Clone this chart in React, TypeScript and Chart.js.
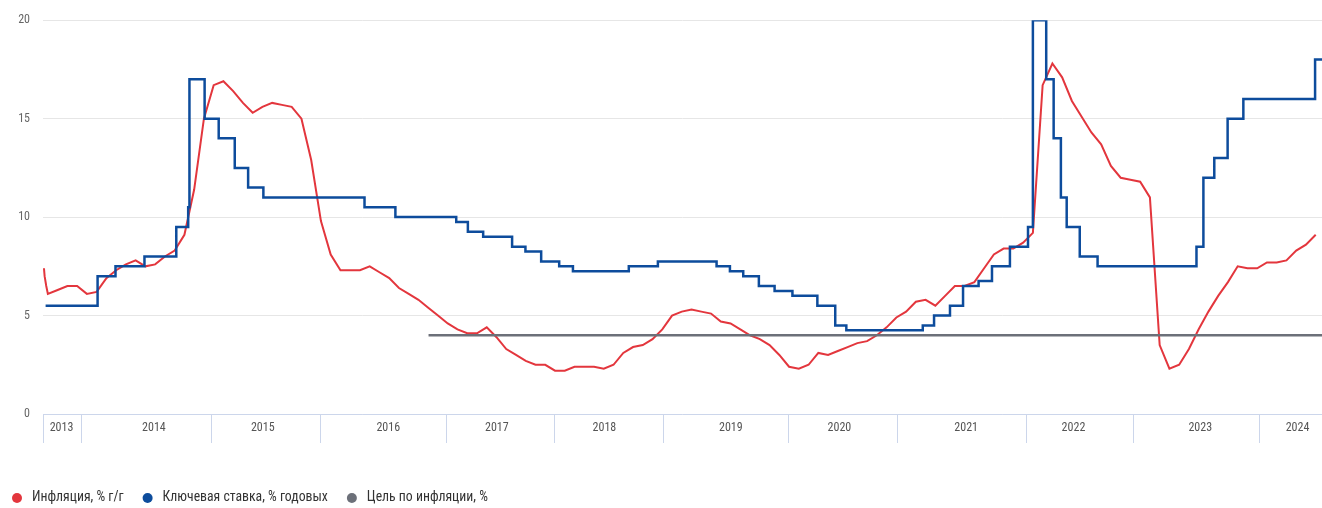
import React, { useEffect, useRef } from "react";
import { Chart, registerables } from "chart.js";

Chart.register(...registerables);

// ---------- DATA ----------
// Inflation, % y/y, monthly, first value = Sep 2013 (plotted at month end)
const inflationStart = "2013-09";
const inflationValues: number[] = [
  6.1, 6.3, 6.5, 6.5,
  6.1, 6.2, 6.9, 7.3, 7.6, 7.8, 7.5, 7.6, 8.0, 8.3, 9.1, 11.4,
  15.0, 16.7, 16.9, 16.4, 15.8, 15.3, 15.6, 15.8, 15.7, 15.6, 15.0, 12.9,
  9.8, 8.1, 7.3, 7.3, 7.3, 7.5, 7.2, 6.9, 6.4, 6.1, 5.8, 5.4,
  5.0, 4.6, 4.3, 4.1, 4.1, 4.4, 3.9, 3.3, 3.0, 2.7, 2.5, 2.5,
  2.2, 2.2, 2.4, 2.4, 2.4, 2.3, 2.5, 3.1, 3.4, 3.5, 3.8, 4.3,
  5.0, 5.2, 5.3, 5.2, 5.1, 4.7, 4.6, 4.3, 4.0, 3.8, 3.5, 3.0,
  2.4, 2.3, 2.5, 3.1, 3.0, 3.2, 3.4, 3.6, 3.7, 4.0, 4.4, 4.9,
  5.2, 5.7, 5.8, 5.5, 6.0, 6.5, 6.5, 6.7, 7.4, 8.1, 8.4, 8.4,
  8.7, 9.2, 16.7, 17.8, 17.1, 15.9, 15.1, 14.3, 13.7, 12.6, 12.0, 11.9,
  11.8, 11.0, 3.5, 2.3, 2.5, 3.3, 4.3, 5.2, 6.0, 6.7, 7.5, 7.4,
  7.4, 7.7, 7.7, 7.8, 8.3, 8.6, 9.1,
];
// small lead-in visible at the left edge of the plot
const inflationLeadDates = ["2013-09-18", "2013-09-20", "2013-09-25"];
const inflationLeadValues = [7.4, 7.0, 6.5];

// Key rate, % per annum: date of change and new level
const keyRateDates = [
  "2013-09-23", "2014-03-03", "2014-04-28", "2014-07-28", "2014-11-05", "2014-12-12", "2014-12-16",
  "2015-02-02", "2015-03-16", "2015-05-05", "2015-06-16", "2015-08-03",
  "2016-06-14", "2016-09-19",
  "2017-03-27", "2017-05-02", "2017-06-19", "2017-09-18", "2017-10-30", "2017-12-18",
  "2018-02-12", "2018-03-26", "2018-09-17", "2018-12-17",
  "2019-06-17", "2019-07-29", "2019-09-09", "2019-10-28", "2019-12-16",
  "2020-02-10", "2020-04-27", "2020-06-22", "2020-07-27",
  "2021-03-22", "2021-04-26", "2021-06-15", "2021-07-26", "2021-09-13", "2021-10-25", "2021-12-20",
  "2022-02-14", "2022-02-28", "2022-04-11", "2022-05-04", "2022-05-27", "2022-06-14", "2022-07-25", "2022-09-19",
  "2023-07-24", "2023-08-15", "2023-09-18", "2023-10-30", "2023-12-18",
  "2024-07-29", "2024-09-30",
];
const keyRateValues = [
  5.5, 7.0, 7.5, 8.0, 9.5, 10.5, 17.0,
  15.0, 14.0, 12.5, 11.5, 11.0,
  10.5, 10.0,
  9.75, 9.25, 9.0, 8.5, 8.25, 7.75,
  7.5, 7.25, 7.5, 7.75,
  7.5, 7.25, 7.0, 6.5, 6.25,
  6.0, 5.5, 4.5, 4.25,
  4.5, 5.0, 5.5, 6.5, 6.75, 7.5, 8.5,
  9.5, 20.0, 17.0, 14.0, 11.0, 9.5, 8.0, 7.5,
  8.5, 12.0, 13.0, 15.0, 16.0,
  18.0, 18.0,
];

// Inflation target
const targetDates = ["2017-01-01", "2024-09-30"];
const targetValues = [4, 4];

// Axis: range, band dividers and year labels
const axisStart = "2013-09-15";
const axisEnd = "2024-08-20";
const bandDividers = [
  "2013-09-15", "2014-01-13", "2015-02-21", "2016-01-29", "2017-02-24", "2018-01-27",
  "2019-01-01", "2020-01-29", "2021-01-03", "2022-02-08", "2023-01-07", "2024-02-04",
];
const yearLabels = ["2013", "2014", "2015", "2016", "2017", "2018", "2019", "2020", "2021", "2022", "2023", "2024"];
const yearLabelDates = [
  "2013-11-12", "2014-08-27", "2015-08-01", "2016-08-28", "2017-08-01", "2018-07-02",
  "2019-08-01", "2020-07-05", "2021-08-05", "2022-07-05", "2023-08-05", "2024-06-04",
];
const yTicks = { min: 0, max: 20, step: 5 };

const seriesNames = ["Инфляция, % г/г", "Ключевая ставка, % годовых", "Цель по инфляции, %"];
const seriesColors = ["#e3363d", "#0d4c9c", "#6c7079"];

// ---------- helpers ----------
const daysIn = (y: number, m: number) => new Date(y, m, 0).getDate();
// months elapsed since 1 Jan 2013 (fractional)
function pos(date: string): number {
  const [y, m, d] = date.split("-").map(Number);
  return (y - 2013) * 12 + (m - 1) + (d ?? daysIn(y, m)) / daysIn(y, m);
}
function inflationPoints() {
  const [sy, sm] = inflationStart.split("-").map(Number);
  const pts = inflationLeadDates.map((d, i) => ({ x: pos(d), y: inflationLeadValues[i] }));
  inflationValues.forEach((v, i) => {
    const mm = sm - 1 + i;
    const y = sy + Math.floor(mm / 12);
    const m = (mm % 12) + 1;
    pts.push({ x: pos(`${y}-${String(m).padStart(2, "0")}-${daysIn(y, m)}`), y: v });
  });
  return pts;
}

const FONT = "'Liberation Sans Narrow', 'Arial Narrow', 'Roboto Condensed', sans-serif";

const bandAxisPlugin = {
  id: "bandAxis",
  afterDraw(chart: any) {
    const { ctx, chartArea } = chart;
    const x = chart.scales.x;
    const base = Math.round(chartArea.bottom);
    ctx.save();
    ctx.strokeStyle = "#ccd6eb";
    ctx.lineWidth = 1;
    ctx.beginPath();
    ctx.moveTo(chartArea.left, base + 0.5);
    ctx.lineTo(chartArea.right, base + 0.5);
    ctx.stroke();
    bandDividers.forEach((d) => {
      const px = Math.round(x.getPixelForValue(pos(d))) + 0.5;
      ctx.beginPath();
      ctx.moveTo(px, base);
      ctx.lineTo(px, base + 29);
      ctx.stroke();
    });
    ctx.fillStyle = "#555555";
    ctx.font = `12px ${FONT}`;
    ctx.textAlign = "center";
    ctx.textBaseline = "middle";
    yearLabels.forEach((lab, i) => {
      ctx.fillText(lab, x.getPixelForValue(pos(yearLabelDates[i])), base + 14);
    });
    ctx.restore();
  },
};

const legendPlugin = {
  id: "customLegend",
  afterDraw(chart: any) {
    const { ctx } = chart;
    ctx.save();
    ctx.font = `13.75px ${FONT}`;
    ctx.textBaseline = "middle";
    ctx.textAlign = "left";
    let cx = 17;
    const cy = 498;
    seriesNames.forEach((name, i) => {
      ctx.fillStyle = seriesColors[i];
      ctx.beginPath();
      ctx.arc(cx, cy, 5, 0, Math.PI * 2);
      ctx.fill();
      ctx.fillStyle = "#333333";
      const tx = cx + 15;
      ctx.fillText(name, tx, cy);
      const w = ctx.measureText(name).width;
      cx = tx + w + 24;
    });
    ctx.restore();
  },
};

export default function App() {
  const ref = useRef<HTMLCanvasElement | null>(null);
  useEffect(() => {
    if (!ref.current) return;
    const chart = new Chart(ref.current, {
      type: "line",
      data: {
        datasets: [
          {
            label: seriesNames[0],
            data: inflationPoints(),
            borderColor: seriesColors[0],
            backgroundColor: seriesColors[0],
            borderWidth: 2,
            pointRadius: 0,
            tension: 0,
            order: 3,
          },
          {
            label: seriesNames[1],
            data: keyRateDates.map((d, i) => ({ x: pos(d), y: keyRateValues[i] })),
            borderColor: seriesColors[1],
            backgroundColor: seriesColors[1],
            borderWidth: 2.5,
            pointRadius: 0,
            stepped: "before",
            order: 2,
          },
          {
            label: seriesNames[2],
            data: targetDates.map((d, i) => ({ x: pos(d), y: targetValues[i] })),
            borderColor: seriesColors[2],
            backgroundColor: seriesColors[2],
            borderWidth: 2.5,
            pointRadius: 0,
            order: 1,
          },
        ],
      },
      options: {
        responsive: false,
        animation: false,
        parsing: false,
        normalized: true,
        layout: { padding: { top: 18, bottom: 94, left: 0, right: 0 } },
        plugins: { legend: { display: false }, tooltip: { enabled: false } },
        scales: {
          x: {
            type: "linear",
            display: false,
            min: pos(axisStart),
            max: pos(axisEnd),
          },
          y: {
            min: yTicks.min,
            max: yTicks.max,
            border: { display: false },
            grid: { color: "#e6e6e6", lineWidth: 1, drawTicks: false },
            ticks: {
              stepSize: yTicks.step,
              padding: 13,
              color: "#666666",
              font: { size: 12, family: FONT },
            },
            afterFit: (s: any) => {
              s.width = 43;
            },
          },
        },
      },
      plugins: [bandAxisPlugin, legendPlugin],
    } as any);
    return () => chart.destroy();
  }, []);
  return (
    <div style={{ position: "absolute", left: 0, top: 0, width: 1322, height: 508, background: "#fff" }}>
      <canvas ref={ref} width={1322} height={508} style={{ width: 1322, height: 508, display: "block" }} />
    </div>
  );
}
